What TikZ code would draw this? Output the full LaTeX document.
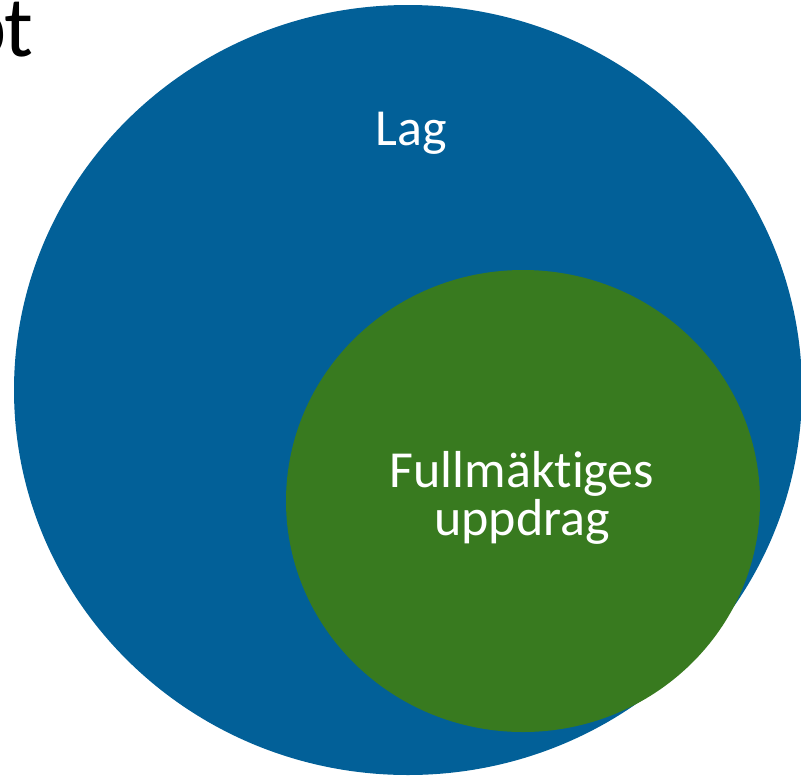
\documentclass[tikz,border=0pt]{standalone}
\usepackage{fontspec}
\setmainfont{Carlito}[Ligatures=NoCommon]
\definecolor{lagblue}{RGB}{2,96,152}
\definecolor{fmgreen}{RGB}{56,122,31}
\begin{document}
\begin{tikzpicture}[x=1pt,y=-1pt,
  lbl/.style={text=white,inner sep=0pt,font=\fontsize{52}{48}\selectfont,align=center}]
\useasboundingbox (0,0) rectangle (801,777);
\fill[lagblue] (408,390) ellipse [x radius=394pt, y radius=385pt];
\fill[fmgreen] (523,501) ellipse [x radius=237pt, y radius=231pt];
\node[lbl,anchor=base] (lag) at (411,145) {Lag};
\node[lbl,anchor=base] (fm) at (522,535) {Fullmäktiges\\uppdrag};
\node[anchor=base east,inner sep=0pt,font=\fontsize{86}{86}\selectfont] (t) at (33,56) {p\kern-3pt t};
\end{tikzpicture}
\end{document}
